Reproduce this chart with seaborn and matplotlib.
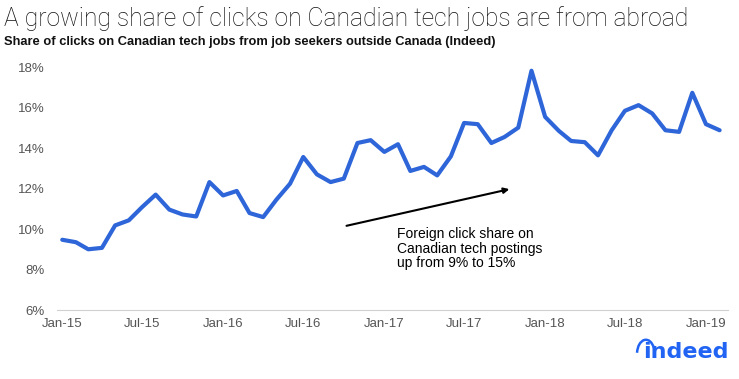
import numpy as np
import pandas as pd
import matplotlib
matplotlib.use("Agg")
import matplotlib.pyplot as plt
import matplotlib.dates as mdates
from matplotlib.patches import Arc
import seaborn as sns

# monthly share of clicks from outside Canada, Jan-15 .. Feb-19 (%)
months = pd.date_range("2015-01-01", periods=50, freq="MS")
share = [
    9.47, 9.35, 9.00, 9.07, 10.18, 10.43, 11.08, 11.70, 10.96, 10.72, 10.62, 12.32,
    11.66, 11.88, 10.79, 10.59, 11.45, 12.24, 13.56, 12.70, 12.32, 12.49, 14.25, 14.39,
    13.81, 14.19, 12.87, 13.07, 12.65, 13.59, 15.24, 15.18, 14.25, 14.55, 15.01, 17.82,
    15.54, 14.85, 14.35, 14.29, 13.64, 14.88, 15.84, 16.12, 15.71, 14.88, 14.80, 16.73,
    15.18, 14.88,
]
y_ticks = [6, 8, 10, 12, 14, 16, 18]

df = pd.DataFrame({"month": months, "share": share})

sns.set_theme(style="white")
plt.rcParams["font.family"] = ["Liberation Sans", "DejaVu Sans"]

fig = plt.figure(figsize=(7.39, 3.79), dpi=100)
ax = fig.add_axes([0.0771, 0.182, 0.908, 0.641])

sns.lineplot(data=df, x="month", y="share", ax=ax, color="#2e66d9", linewidth=3.0)

ax.set_ylim(6, 18)
ax.set_yticks(y_ticks)
ax.set_yticklabels([f"{t}%" for t in y_ticks])
ax.set_xlim(pd.Timestamp("2014-12-20"), pd.Timestamp("2019-02-20"))
ax.xaxis.set_major_locator(mdates.MonthLocator(bymonth=[1, 7]))
ax.xaxis.set_major_formatter(mdates.DateFormatter("%b-%y"))
ax.set_xlabel("")
ax.set_ylabel("")
ax.tick_params(axis="both", length=0, labelsize=9.5, colors="#555555")
ax.tick_params(axis="y", pad=8.6)
ax.tick_params(axis="x", pad=6)
for s in ["top", "right", "left"]:
    ax.spines[s].set_visible(False)
ax.spines["bottom"].set_color("#d0d0d0")
ax.spines["bottom"].set_linewidth(0.8)

ax.annotate("", xy=(pd.Timestamp("2017-10-18"), 12.0),
            xytext=(pd.Timestamp("2016-10-01"), 10.13),
            arrowprops=dict(arrowstyle="-|>", color="black", lw=1.5,
                            mutation_scale=8))
ax.text(pd.Timestamp("2017-01-30"), 10.1,
        "Foreign click share on\nCanadian tech postings\nup from 9% to 15%",
        fontsize=10, color="black", va="top", ha="left", linespacing=1.05)

fig.text(0.006, 0.985, "A growing share of clicks on Canadian tech jobs are from abroad",
         fontsize=17.7, family=["Roboto", "Liberation Sans"], fontweight="light",
         color="#111111", va="top", ha="left")
fig.text(0.006, 0.905, "Share of clicks on Canadian tech jobs from job seekers outside Canada (Indeed)",
         fontsize=9.3, fontweight="bold", color="#111111", va="top", ha="left")

# indeed logo
fig.text(0.986, 0.055, "indeed", fontsize=16, fontweight="bold",
         family=["DejaVu Sans"], color="#2164f3", ha="right", va="baseline")
fig.add_artist(Arc((0.874, 0.066), 0.024, 0.075, theta1=55, theta2=165,
                   transform=fig.transFigure, color="#2164f3", lw=1.8))

fig.savefig("out.png", dpi=100)
